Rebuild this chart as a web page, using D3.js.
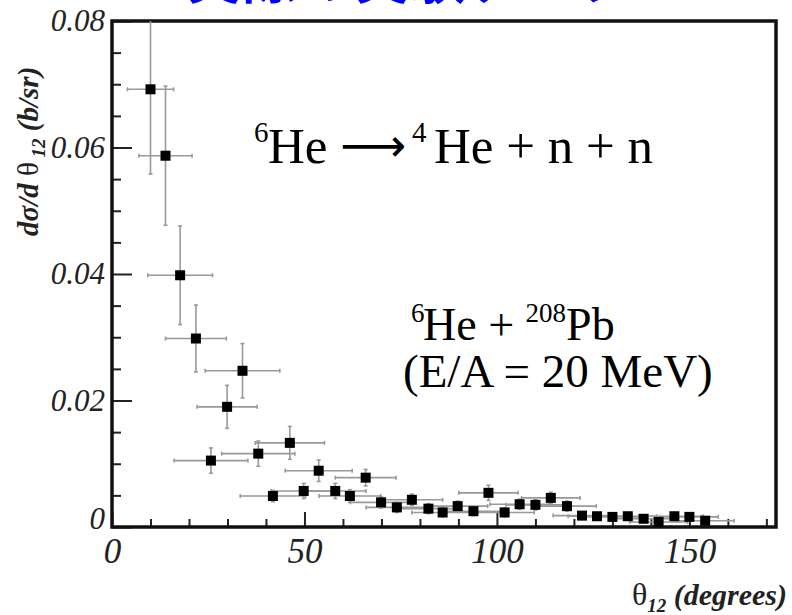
<!DOCTYPE html>
<html>
<head>
<meta charset="utf-8">
<script src="https://cdn.jsdelivr.net/npm/d3@7"></script>
<style>
  body { margin: 0; background: #fff; }
  svg { display: block; }
</style>
</head>
<body>
<div id="chart"></div>
<script>
// data (theta12 in degrees, dsigma/dtheta in b/sr)
const theta = [10.0, 13.9, 17.7, 21.8, 25.7, 29.9, 33.9, 38.0, 41.8, 46.2, 49.8, 53.7, 58.0, 61.8, 65.9, 69.9, 74.0, 77.9, 82.2, 85.9, 89.8, 93.9, 97.8, 102.0, 105.9, 110.0, 114.0, 118.2, 122.1, 126.0, 130.0, 134.0, 138.1, 142.0, 146.1, 150.0, 154.1];
const sigma = [0.0692, 0.0587, 0.0398, 0.0298, 0.0105, 0.0190, 0.0247, 0.0116, 0.0049, 0.0133, 0.0057, 0.0089, 0.0057, 0.0049, 0.0078, 0.0039, 0.0031, 0.0043, 0.0029, 0.0023, 0.0033, 0.0025, 0.0054, 0.0023, 0.0036, 0.0035, 0.0046, 0.0033, 0.0018, 0.0017, 0.0016, 0.0017, 0.0013, 0.0008, 0.0017, 0.0016, 0.0010];
const thetaErr = [6.0, 6.9, 8.4, 7.9, 9.6, 7.8, 9.7, 9.5, 8.5, 9.0, 8.5, 8.7, 8.0, 8.0, 7.9, 8.0, 8.0, 8.0, 8.0, 8.0, 7.8, 7.8, 7.7, 7.7, 7.7, 7.7, 7.6, 7.6, 7.5, 7.5, 7.5, 7.5, 7.5, 7.5, 7.5, 7.5, 7.5];
const sigmaErr = [0.0134, 0.0110, 0.0078, 0.0053, 0.0020, 0.0034, 0.0043, 0.0020, 0.0009, 0.0026, 0.0012, 0.0017, 0.0012, 0.0010, 0.0013, 0.0009, 0.0008, 0.0009, 0.0008, 0.0007, 0.0008, 0.0007, 0.0012, 0.0007, 0.0008, 0.0008, 0.0009, 0.0008, 0.0006, 0.0006, 0.0006, 0.0006, 0.0005, 0.0005, 0.0006, 0.0006, 0.0005];

const xMajor = [0, 50, 100, 150];
const xMinor = [10, 20, 30, 40, 60, 70, 80, 90, 110, 120, 130, 140, 160, 170];
const yMajor = [0, 0.02, 0.04, 0.06, 0.08];
const yMinor = [0.005, 0.01, 0.015, 0.025, 0.03, 0.035, 0.045, 0.05, 0.055, 0.065, 0.07, 0.075];

const width = 792, height = 615;
const margin = {left: 112, right: 16, top: 21, bottom: 88};

const svg = d3.select("#chart").append("svg")
  .attr("width", width)
  .attr("height", height);

const x = d3.scaleLinear().domain([0, 172.5]).range([margin.left, width - margin.right]);
const y = d3.scaleLinear().domain([0, 0.08]).range([height - margin.bottom, margin.top]);

// blue slide title, mostly cut off by the top edge like in the original
svg.append("text")
  .attr("x", 186)
  .attr("y", -2)
  .attr("font-family", "Noto Sans CJK JP")
  .attr("font-weight", "bold")
  .attr("font-size", 56)
  .attr("fill", "#0000ff")
  .text("実際の実験データ");

// axes - ticks point into the frame
const serif = "Liberation Serif, Times New Roman, serif";

const xAxisMajor = svg.append("g")
  .attr("transform", `translate(0,${y(0)})`)
  .call(d3.axisBottom(x).tickValues(xMajor).tickSize(-15).tickPadding(11).tickFormat(d3.format("d")));
const xAxisMinor = svg.append("g")
  .attr("transform", `translate(0,${y(0)})`)
  .call(d3.axisBottom(x).tickValues(xMinor).tickSize(-8).tickFormat(""));

const yAxisMajor = svg.append("g")
  .attr("transform", `translate(${x(0)},0)`)
  .call(d3.axisLeft(y).tickValues(yMajor).tickSize(-20).tickPadding(7)
    .tickFormat(d => d === 0 ? "0" : d3.format(".2f")(d)));
const yAxisMinor = svg.append("g")
  .attr("transform", `translate(${x(0)},0)`)
  .call(d3.axisLeft(y).tickValues(yMinor).tickSize(-9).tickFormat(""));

[xAxisMajor, xAxisMinor, yAxisMajor, yAxisMinor].forEach(g => {
  g.select(".domain").remove();
  g.selectAll(".tick line").attr("stroke", "#222").attr("stroke-width", 2);
  g.selectAll(".tick text")
    .attr("font-family", serif)
    .attr("font-style", "italic")
    .attr("fill", "#222");
});
xAxisMajor.selectAll(".tick text").attr("font-size", 35);
yAxisMajor.selectAll(".tick text").attr("font-size", 31);
// the y "0" sits a little above the corner
yAxisMajor.selectAll(".tick text").filter(d => d === 0).attr("dy", "0.05em");

// frame
svg.append("rect")
  .attr("x", x(0))
  .attr("y", y(0.08))
  .attr("width", x(172.5) - x(0))
  .attr("height", y(0) - y(0.08))
  .attr("fill", "none")
  .attr("stroke", "#111")
  .attr("stroke-width", 3.5);

svg.append("clipPath").attr("id", "plotclip")
  .append("rect")
  .attr("x", x(0)).attr("y", y(0.08))
  .attr("width", x(172.5) - x(0)).attr("height", y(0) - y(0.08));

const pts = theta.map((t, i) => ({t, s: sigma[i], et: thetaErr[i], es: sigmaErr[i]}));

// error bars
const eb = svg.append("g").attr("clip-path", "url(#plotclip)")
  .attr("stroke", "#999").attr("stroke-width", 1.6);
eb.selectAll(".xerr").data(pts).enter().append("line")
  .attr("x1", d => x(d.t - d.et)).attr("x2", d => x(d.t + d.et))
  .attr("y1", d => y(d.s)).attr("y2", d => y(d.s));
eb.selectAll(".yerr").data(pts).enter().append("line")
  .attr("x1", d => x(d.t)).attr("x2", d => x(d.t))
  .attr("y1", d => y(d.s - d.es)).attr("y2", d => y(d.s + d.es));
// little end caps
eb.selectAll(".capl").data(pts).enter().append("line")
  .attr("x1", d => x(d.t - d.et)).attr("x2", d => x(d.t - d.et))
  .attr("y1", d => y(d.s) - 2).attr("y2", d => y(d.s) + 2);
eb.selectAll(".capr").data(pts).enter().append("line")
  .attr("x1", d => x(d.t + d.et)).attr("x2", d => x(d.t + d.et))
  .attr("y1", d => y(d.s) - 2).attr("y2", d => y(d.s) + 2);
eb.selectAll(".capb").data(pts).enter().append("line")
  .attr("x1", d => x(d.t) - 2).attr("x2", d => x(d.t) + 2)
  .attr("y1", d => y(d.s - d.es)).attr("y2", d => y(d.s - d.es));
eb.selectAll(".capt").data(pts).enter().append("line")
  .attr("x1", d => x(d.t) - 2).attr("x2", d => x(d.t) + 2)
  .attr("y1", d => y(d.s + d.es)).attr("y2", d => y(d.s + d.es));

// markers
svg.append("g").selectAll("rect").data(pts).enter().append("rect")
  .attr("x", d => x(d.t) - 5)
  .attr("y", d => y(d.s) - 5)
  .attr("width", 10)
  .attr("height", 10)
  .attr("fill", "#000");

// reaction label
const eq = svg.append("text")
  .attr("y", 163)
  .attr("font-family", serif)
  .attr("font-size", 51)
  .attr("fill", "#000");
eq.append("tspan").attr("x", 254).attr("font-size", 29).attr("dy", -21).text("6");
eq.append("tspan").attr("x", 268).attr("dy", 21).text("He");
eq.append("tspan").attr("x", 340).attr("font-family", "DejaVu Sans").attr("font-size", 46).attr("dy", -2).text("\u27F6");
eq.append("tspan").attr("x", 412).attr("font-size", 29).attr("dy", -19).text("4");
eq.append("tspan").attr("x", 434).attr("dy", 21).text("He + n + n");

const lbl = svg.append("text")
  .attr("y", 340)
  .attr("font-family", serif)
  .attr("font-size", 46)
  .attr("fill", "#000");
lbl.append("tspan").attr("x", 411).attr("font-size", 27).attr("dy", -18).text("6");
lbl.append("tspan").attr("x", 423).attr("dy", 18).text("He + ");
lbl.append("tspan").attr("font-size", 27).attr("dy", -18).text("208");
lbl.append("tspan").attr("dy", 18).text("Pb");

svg.append("text")
  .attr("x", 403).attr("y", 387)
  .attr("font-family", serif)
  .attr("font-size", 47)
  .attr("fill", "#000")
  .text("(E/A = 20 MeV)");

// axis titles
const yt = svg.append("text")
  .attr("transform", "translate(38,236) rotate(-90)")
  .attr("font-family", serif)
  .attr("font-style", "italic")
  .attr("font-weight", "bold")
  .attr("font-size", 29)
  .attr("fill", "#222");
yt.append("tspan").text("d\u03C3/d ");
yt.append("tspan").attr("font-style", "normal").attr("font-weight", "normal").text("\u03B8");
yt.append("tspan").attr("font-size", 19).attr("dy", 7).text(" 12");
yt.append("tspan").attr("dy", -7).text(" (b/sr)");

const xt = svg.append("text")
  .attr("x", 787).attr("y", 605)
  .attr("text-anchor", "end")
  .attr("font-family", serif)
  .attr("font-style", "italic")
  .attr("font-weight", "bold")
  .attr("font-size", 30)
  .attr("fill", "#222");
xt.append("tspan").attr("font-style", "normal").attr("font-weight", "normal").attr("font-size", 32).text("\u03B8");
xt.append("tspan").attr("font-size", 19).attr("dy", 7).text("12");
xt.append("tspan").attr("dy", -7).text(" (degrees)");
</script>
</body>
</html>
